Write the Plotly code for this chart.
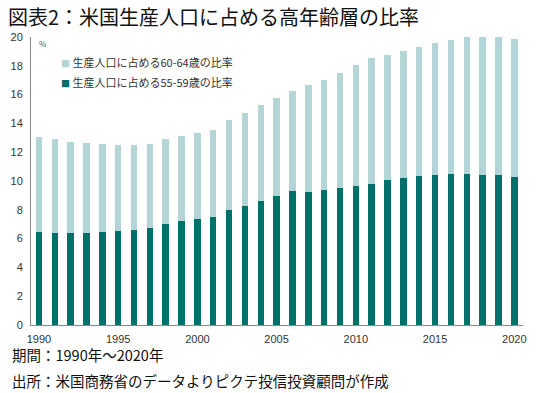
import plotly.graph_objects as go

years = list(range(1990, 2021))
total = [13.08, 12.92, 12.73, 12.62, 12.55, 12.48, 12.48, 12.57, 12.92, 13.13,
         13.33, 13.54, 14.24, 14.74, 15.26, 15.76, 16.25, 16.67, 17.03, 17.52,
         18.06, 18.54, 18.75, 19.03, 19.31, 19.58, 19.81, 20.0, 20.0, 20.0, 19.88]
age_55_59 = [6.48, 6.36, 6.36, 6.41, 6.48, 6.53, 6.60, 6.74, 7.04, 7.20,
             7.38, 7.50, 8.01, 8.29, 8.61, 8.98, 9.31, 9.26, 9.35, 9.49,
             9.68, 9.81, 10.07, 10.23, 10.32, 10.42, 10.49, 10.46, 10.42, 10.42, 10.30]
age_60_64 = [round(t - d, 2) for t, d in zip(total, age_55_59)]

name_55 = "生産人口に占める55-59歳の比率"
name_60 = "生産人口に占める60-64歳の比率"
x_ticks = [1990, 1995, 2000, 2005, 2010, 2015, 2020]
y_ticks = [0, 2, 4, 6, 8, 10, 12, 14, 16, 18, 20]

DARK = "#00706A"
LIGHT = "#B3D5D6"
FONT = "Noto Sans CJK JP"
NUM_FONT = "Liberation Sans"

fig = go.Figure()
fig.add_trace(go.Bar(x=years, y=age_55_59, name=name_55, showlegend=False,
                     marker=dict(color=DARK, line=dict(width=0))))
fig.add_trace(go.Bar(x=years, y=age_60_64, name=name_60, showlegend=False,
                     marker=dict(color=LIGHT, line=dict(width=0))))


def legend_text(color, label):
    return (f"<span style='color:{color};font-size:9px'>■</span> "
            f"<span style='font-size:11px'>{label}</span>")


fig.update_layout(
    width=550, height=393,
    barmode="stack", bargap=0.59,
    paper_bgcolor="white", plot_bgcolor="white",
    margin=dict(l=31, r=27, t=37, b=68),
    font=dict(family=FONT, color="#333333", size=11),
    showlegend=False,
    xaxis=dict(range=[1989.5, 2020.55], tickvals=x_ticks, ticktext=[str(v) for v in x_ticks],
               showgrid=False, showline=True, linecolor="#888888", linewidth=1,
               ticks="", zeroline=False, ticklabelstandoff=4,
               tickfont=dict(family=NUM_FONT, size=11, color="#333333")),
    yaxis=dict(range=[0, 20], tickvals=y_ticks, showgrid=False, showline=True,
               linecolor="#888888", linewidth=1, ticks="", zeroline=False,
               ticklabelstandoff=5,
               tickfont=dict(family=NUM_FONT, size=11, color="#333333")),
    title=dict(text="図表2：米国生産人口に占める高年齢層の比率", xref="container", yref="container",
               x=0.0145, y=0.954, xanchor="left", yanchor="middle",
               font=dict(family=FONT, size=20, color="#111111")),
    annotations=[
        dict(text="%", xref="paper", yref="paper", x=0.012, y=0.979, xanchor="left", yanchor="middle",
             showarrow=False, font=dict(size=8, color="#555555")),
        dict(text=legend_text(LIGHT, name_60), xref="paper", yref="paper", x=0.057, y=0.913,
             xanchor="left", yanchor="middle", showarrow=False, font=dict(size=11, color="#333333")),
        dict(text=legend_text(DARK, name_55), xref="paper", yref="paper", x=0.057, y=0.844,
             xanchor="left", yanchor="middle", showarrow=False, font=dict(size=11, color="#333333")),
        dict(text="期間：1990年～2020年", xref="paper", yref="paper", x=-0.043, y=-0.104,
             xanchor="left", yanchor="middle", showarrow=False, font=dict(size=14.5, color="#111111")),
        dict(text="出所：米国商務省のデータよりピクテ投信投資顧問が作成", xref="paper", yref="paper",
             x=-0.043, y=-0.191, xanchor="left", yanchor="middle", showarrow=False,
             font=dict(size=14.5, color="#111111")),
    ],
)

# remove the browser's default 8px body margin so the figure fills the window
fig.write_html("out.html", config={"displayModeBar": False},
               post_script="document.body.style.margin='0';")
